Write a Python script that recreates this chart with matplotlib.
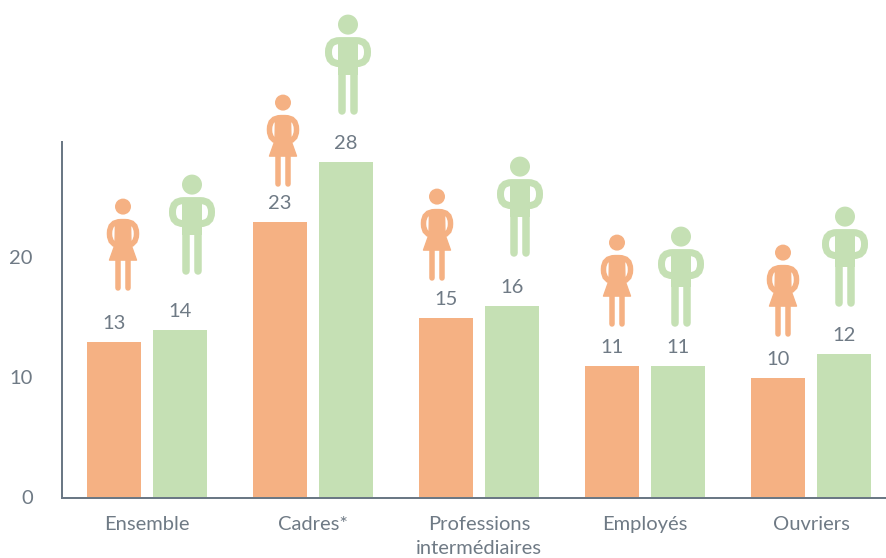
import matplotlib
matplotlib.use("Agg")
import numpy as np
import matplotlib.pyplot as plt
from matplotlib.patches import Circle, FancyBboxPatch, Polygon
from matplotlib.transforms import Affine2D, ScaledTranslation

plt.rcParams['font.family'] = ['Lato', 'Open Sans', 'DejaVu Sans']

categories = ["Ensemble", "Cadres*", "Professions\nintermédiaires", "Employés", "Ouvriers"]
femmes = [13, 23, 15, 11, 10]
hommes = [14, 28, 16, 11, 12]
yticks = [0, 10, 20]

# head of each pictogram relative to the top centre of its bar, in pixels
femmes_dx = [9, 3, -9, 5, 5]
femmes_dy = [135, 119, 121, 123, 125]
hommes_dx = [12, 2, 8, 3, 1]
hommes_dy = [145, 137, 139, 129, 137]

ORANGE = "#F5B183"
GREEN = "#C5E0B4"
TEXT = "#6F7A85"
AXIS = "#6B7885"

DPI = 100
W, H = 887, 558
PX = 72 / DPI
BASE = 497.6


def arms(ax, tr, half_w, top, bottom, stroke, color):
    # rounded hoop for the hands-on-hips arms
    r = (bottom - top) / 2 - 0.5
    ax.add_patch(FancyBboxPatch((-half_w + r, top + r), 2 * (half_w - r), bottom - top - 2 * r,
                                boxstyle="round,pad=%f,rounding_size=%f" % (r, r), fc="none", ec=color,
                                lw=stroke * PX, mutation_scale=1, transform=tr))


def draw_femme(ax, tr):
    ax.add_patch(Circle((0, 0), 8, fc=ORANGE, ec="none", transform=tr))
    arms(ax, tr, 13.5, 15, 39, 5.5, ORANGE)
    ax.add_patch(Polygon([(-7.5, 14.5), (7.5, 14.5), (8, 38), (13.5, 53.5), (-13.5, 53.5), (-8, 38)],
                         closed=True, fc=ORANGE, ec=ORANGE, lw=1, joinstyle="round", transform=tr))
    for lx in (-4.7, 4.7):
        ax.plot([lx, lx], [50, 81], color=ORANGE, lw=5.5 * PX, solid_capstyle="round", transform=tr)


def draw_homme(ax, tr):
    ax.add_patch(Circle((0, 0), 10, fc=GREEN, ec="none", transform=tr))
    arms(ax, tr, 19.5, 16, 39, 7, GREEN)
    ax.add_patch(Polygon([(-10, 14), (10, 14), (10, 50), (-10, 50)],
                         closed=True, fc=GREEN, ec="none", transform=tr))
    for lx in (-6.3, 6.3):
        ax.plot([lx, lx], [45, 86], color=GREEN, lw=7.5 * PX, solid_capstyle="round", transform=tr)


fig = plt.figure(figsize=(W / DPI, H / DPI), dpi=DPI)
ax = fig.add_axes([62 / W, (H - BASE) / H, (W - 62) / W, BASE / H])

x = np.arange(len(categories))
bw = 54 / 166
off = 33 / 166
ax.bar(x - off, femmes, bw, color=ORANGE)
ax.bar(x + off, hommes, bw, color=GREEN)

ax.set_xlim((62 - 147) / 166, (887 - 147) / 166)
ax.set_ylim(0, BASE / 12)

for i in range(len(categories)):
    ax.annotate(str(femmes[i]), (x[i] - off, femmes[i]), xytext=(0, 18.5 * PX), textcoords="offset points",
                ha="center", va="center", fontsize=14.5, color=TEXT)
    ax.annotate(str(hommes[i]), (x[i] + off, hommes[i]), xytext=(0, 18.5 * PX), textcoords="offset points",
                ha="center", va="center", fontsize=14.5, color=TEXT)

    px, py = ax.transData.transform((x[i] - off, femmes[i]))
    draw_femme(ax, Affine2D().scale(1, -1).translate(px + femmes_dx[i], py + femmes_dy[i]))
    px, py = ax.transData.transform((x[i] + off, hommes[i]))
    draw_homme(ax, Affine2D().scale(1, -1).translate(px + hommes_dx[i], py + hommes_dy[i]))

ax.set_xlim((62 - 147) / 166, (887 - 147) / 166)
ax.set_ylim(0, BASE / 12)

for s in ("top", "right"):
    ax.spines[s].set_visible(False)
ax.spines["left"].set_bounds(0, (BASE - 142) / 12)
ax.spines["left"].set_color(AXIS)
ax.spines["bottom"].set_color(AXIS)
ax.spines["left"].set_linewidth(2 * PX)
ax.spines["bottom"].set_linewidth(2 * PX)

ax.set_xticks(x)
ax.set_xticklabels(categories, fontsize=14.5, color=TEXT, linespacing=1.5)
ax.set_yticks(yticks)
ax.set_yticklabels([str(v) for v in yticks], fontsize=14.5, color=TEXT)
ax.tick_params(axis="x", length=0, pad=13)
ax.tick_params(axis="y", length=0, pad=21)
for lab in ax.get_yticklabels():
    lab.set_transform(lab.get_transform() + ScaledTranslation(0, 1 / DPI, fig.dpi_scale_trans))

fig.savefig("out.png", dpi=DPI)
